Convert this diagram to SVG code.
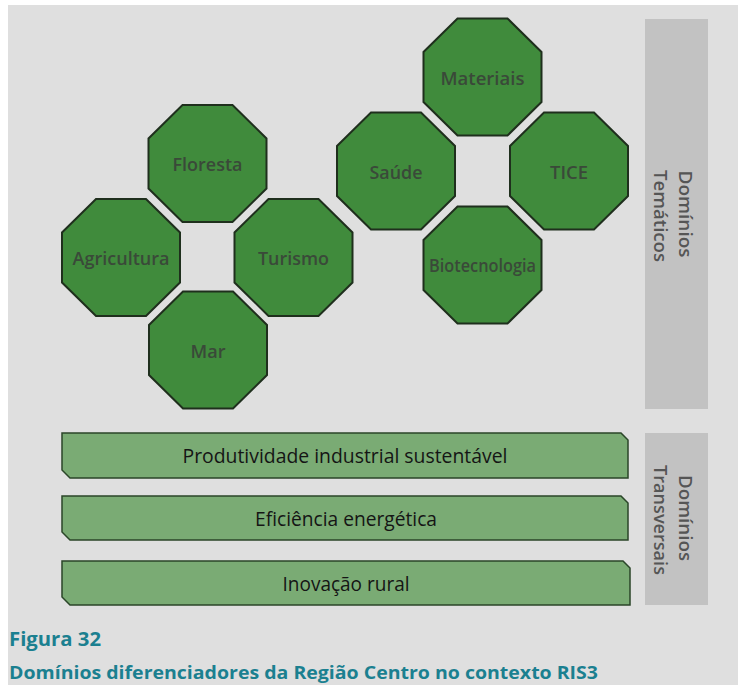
<svg xmlns="http://www.w3.org/2000/svg" xmlns:xlink="http://www.w3.org/1999/xlink" width="738" height="685" viewBox="0 0 738 685">
  <style>
    .oct { fill: #408b3c; stroke: #1f2f1d; stroke-width: 2; }
    .octText { font-family: "Open Sans", "Liberation Sans", sans-serif; font-size: 18px; font-weight: 600; fill: #3a4939; text-anchor: middle; }
    .bar { fill: #7aab74; stroke: #2b4629; stroke-width: 1.5; }
    .barText { font-family: "Open Sans", "Liberation Sans", sans-serif; font-size: 20px; fill: #151515; text-anchor: middle; }
    .side { fill: #c2c2c2; }
    .sideText { font-family: "Open Sans", "Liberation Sans", sans-serif; font-size: 18px; font-weight: 600; fill: #555555; text-anchor: middle; }
    .caption { font-family: "Open Sans", "Liberation Sans", sans-serif; font-weight: 700; fill: #1b8090; }
  </style>
  <defs>
    <polygon id="oct" points="-25,-58.5 25,-58.5 59,-25 59,25 25,58.5 -25,58.5 -59,25 -59,-25"/>
  </defs>
  <rect x="0" y="0" width="738" height="685" fill="#ffffff"/>
  <rect x="8" y="5" width="730" height="680" fill="#dfdfdf"/>

  <g id="floresta">
    <use xlink:href="#oct" href="#oct" class="oct" x="207.5" y="163.5"/>
    <text class="octText" x="207.5" y="171" textLength="70" lengthAdjust="spacingAndGlyphs">Floresta</text>
  </g>
  <g id="agricultura">
    <use xlink:href="#oct" href="#oct" class="oct" x="121" y="257.5"/>
    <text class="octText" x="121" y="265" textLength="97" lengthAdjust="spacingAndGlyphs">Agricultura</text>
  </g>
  <g id="turismo">
    <use xlink:href="#oct" href="#oct" class="oct" x="293.5" y="257.5"/>
    <text class="octText" x="293.5" y="265" textLength="71" lengthAdjust="spacingAndGlyphs">Turismo</text>
  </g>
  <g id="mar">
    <use xlink:href="#oct" href="#oct" class="oct" x="208" y="350"/>
    <text class="octText" x="208" y="357.5" textLength="35" lengthAdjust="spacingAndGlyphs">Mar</text>
  </g>
  <g id="materiais">
    <use xlink:href="#oct" href="#oct" class="oct" x="482.5" y="77"/>
    <text class="octText" x="482.5" y="85" textLength="84" lengthAdjust="spacingAndGlyphs">Materiais</text>
  </g>
  <g id="saude">
    <use xlink:href="#oct" href="#oct" class="oct" x="396" y="171"/>
    <text class="octText" x="396" y="179" textLength="53" lengthAdjust="spacingAndGlyphs">Saúde</text>
  </g>
  <g id="tice">
    <use xlink:href="#oct" href="#oct" class="oct" x="569" y="171"/>
    <text class="octText" x="569" y="179" textLength="38" lengthAdjust="spacingAndGlyphs">TICE</text>
  </g>
  <g id="biotecnologia">
    <use xlink:href="#oct" href="#oct" class="oct" x="482.5" y="265"/>
    <text class="octText" x="482.5" y="272" textLength="107" lengthAdjust="spacingAndGlyphs">Biotecnologia</text>
  </g>

  <g id="dominios-tematicos">
    <rect class="side" x="645" y="19" width="63" height="390"/>
    <text class="sideText" transform="translate(679,214) rotate(90)" x="0" y="0" textLength="87" lengthAdjust="spacingAndGlyphs">Domínios</text>
    <text class="sideText" transform="translate(654,216) rotate(90)" x="0" y="0" textLength="92" lengthAdjust="spacingAndGlyphs">Temáticos</text>
  </g>

  <g id="produtividade">
    <path class="bar" d="M62,433 H621 L628,440 V478 H70 L62,470 Z"/>
    <text class="barText" x="345" y="462.5" textLength="325" lengthAdjust="spacingAndGlyphs">Produtividade industrial sustentável</text>
  </g>
  <g id="eficiencia">
    <path class="bar" d="M62,496 H621 L628,503 V540 H70 L62,532 Z"/>
    <text class="barText" x="346" y="525.5" textLength="182" lengthAdjust="spacingAndGlyphs">Eficiência energética</text>
  </g>
  <g id="inovacao">
    <path class="bar" d="M62,561 H623 L630,568 V605 H70 L62,597 Z"/>
    <text class="barText" x="346" y="590.5" textLength="127" lengthAdjust="spacingAndGlyphs">Inovação rural</text>
  </g>

  <g id="dominios-transversais">
    <rect class="side" x="645" y="433" width="63" height="172"/>
    <text class="sideText" transform="translate(679,518) rotate(90)" x="0" y="0" textLength="86" lengthAdjust="spacingAndGlyphs">Domínios</text>
    <text class="sideText" transform="translate(654,520) rotate(90)" x="0" y="0" textLength="110" lengthAdjust="spacingAndGlyphs">Transversais</text>
  </g>

  <g id="connectors"></g>

  <g id="caption">
    <text class="caption" x="9" y="646" font-size="19" textLength="92" lengthAdjust="spacingAndGlyphs">Figura 32</text>
    <text class="caption" x="9" y="679" font-size="17" textLength="589" lengthAdjust="spacingAndGlyphs">Domínios diferenciadores da Região Centro no contexto RIS3</text>
  </g>
</svg>
